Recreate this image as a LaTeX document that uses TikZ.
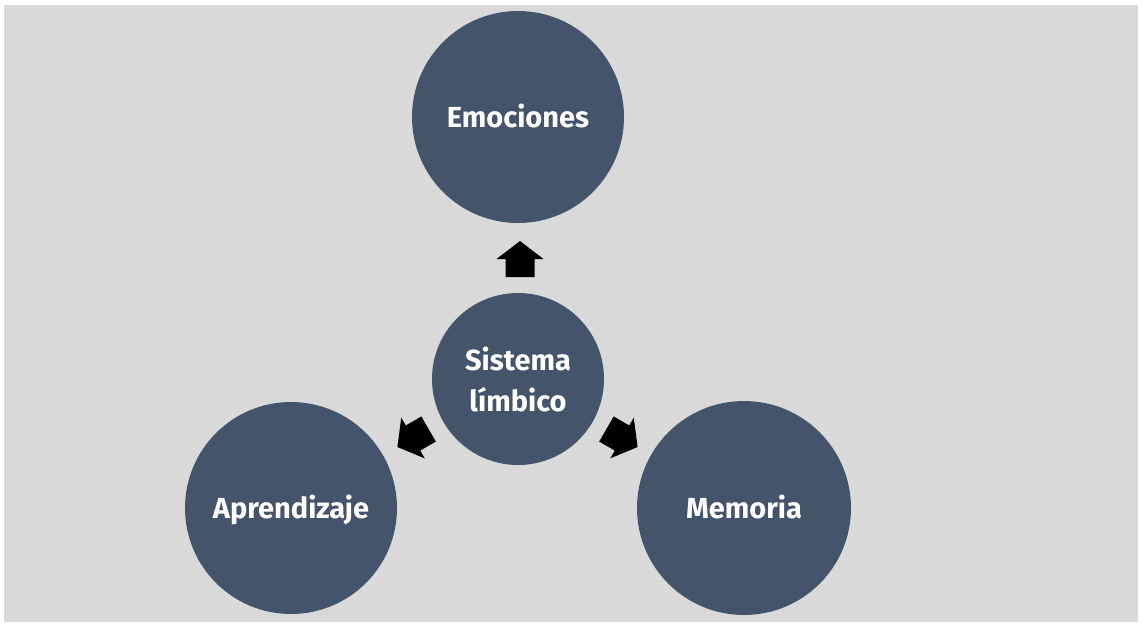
\documentclass[tikz,border=0pt]{standalone}
\usepackage{fontspec}
\setmainfont{Fira Sans}
\definecolor{bg}{HTML}{D9D9D9}
\definecolor{circ}{HTML}{44546A}
\begin{document}
\begin{tikzpicture}[x=1pt,y=-1pt,
  bubble/.style={circle,fill=circ,text=white,font=\bfseries\fontsize{29}{41}\selectfont,align=center,inner sep=0pt},
  oneline/.style={text height=20pt,text depth=0pt},
  blockarrow/.pic={\fill[black] (0,-18) -- (23.5,0) -- (14.5,0) -- (14.5,18) -- (-14.5,18) -- (-14.5,0) -- (-23.5,0) -- cycle;}]
\useasboundingbox (0,0) rectangle (1142,625);
\fill[bg] (4,5) rectangle (1138,622);
\node[bubble,oneline,minimum size=212pt] (emo) at (518,117) {Emociones};
\node[bubble,minimum size=172pt] (sis) at (518,379) {Sistema\\límbico};
\node[bubble,oneline,minimum size=212pt] (apr) at (291,508) {Aprendizaje};
\node[bubble,oneline,minimum size=214pt] (mem) at (744,508) {Memoria};
\pic at (520,259) {blockarrow};
\pic[rotate=120] at (413,438) {blockarrow};
\pic[rotate=-120] at (622,438) {blockarrow};
\end{tikzpicture}
\end{document}
